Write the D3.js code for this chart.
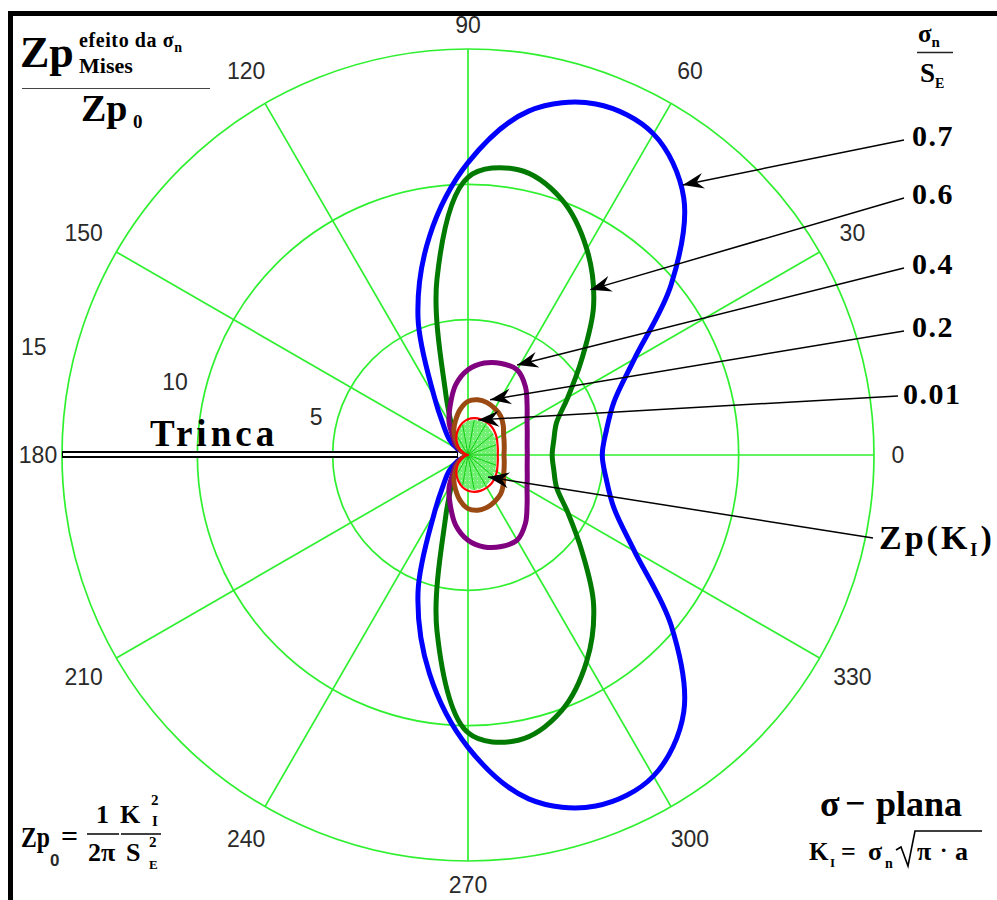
<!DOCTYPE html>
<html><head><meta charset="utf-8">
<script src="https://cdn.jsdelivr.net/npm/d3@7"></script>
<style>
html,body{margin:0;padding:0;background:#fff;}
svg{display:block;}
.serif{font-family:"Liberation Serif","Times New Roman",serif;font-weight:bold;fill:#000;}
.sans{font-family:"Liberation Sans",Arial,sans-serif;fill:#2a2a2a;}
</style></head><body>
<svg id="chart" width="997" height="900"></svg>
<script>
// ---------- data (polar angle in degrees, radius in Zp/Zp0 units) ----------
const angles   = [0,10,20,30,40,50,60,70,80,90,100,110,120,130,140,150,160,170,180];
const sigma07  = [4.96,5.19,5.74,7.10,9.80,12.40,13.70,13.80,12.90,10.80,8.20,5.40,2.50,1.40,0.90,0.45,0,0,0];
const sigma06  = [3.11,3.22,3.48,4.26,5.48,7.22,8.78,10.07,10.70,10.26,6.60,2.40,1.20,0.85,0.60,0.30,0,0,0];
const sigma04  = [2.19,2.22,2.33,2.52,2.85,3.30,3.63,3.60,3.45,3.15,2.63,1.93,1.40,0.85,0.60,0.30,0,0,0];
const sigma02  = [1.33,1.36,1.42,1.52,1.70,1.88,1.98,2.06,2.07,1.98,1.70,1.35,1.05,0.70,0.45,0.20,0,0,0];
const sigma001 = [1.10,1.12,1.16,1.23,1.30,1.36,1.39,1.40,1.38,1.32,1.20,1.03,0.85,0.65,0.45,0.25,0.10,0.03,0];
const zpKI     = [1.05,1.07,1.10,1.16,1.22,1.27,1.31,1.33,1.31,1.25,1.14,1.00,0.81,0.62,0.43,0.26,0.12,0.03,0];

const ringValues  = [5,10,15];
const ringLabels  = ["5","10","15"];
const angleTicks  = [0,30,60,90,120,150,180,210,240,270,300,330];
const angleLabels = ["0","30","60","90","120","150","180","210","240","270","300","330"];

// annotations: label text, arrow target (angle, value) on its curve
const seriesLabels = ["0.7","0.6","0.4","0.2","0.01"];
const arrowTargetAng = [51.5,53.5,61.4,68.2,74,-47.7];
const arrowTargetVal = [12.75,7.6,3.79,2.2,1.35,1.1];

// ---------- layout ----------
const svg = d3.select("#chart");
const cx = 468, cy = 455, R = 406;
const rScale = d3.scaleLinear().domain([0,15]).range([0,R]);
const gridColor = "#2ff02f";
const rad = d => d*Math.PI/180;
const px = (a,v) => cx + rScale(v)*Math.cos(rad(a));
const py = (a,v) => cy - rScale(v)*Math.sin(rad(a));

// frame (top and left black borders)
svg.append("rect").attr("x",8).attr("y",11).attr("width",989).attr("height",5).attr("fill","#000");
svg.append("rect").attr("x",8).attr("y",11).attr("width",5).attr("height",889).attr("fill","#000");

const defs = svg.append("defs");
const pat = defs.append("pattern").attr("id","dots").attr("width",4).attr("height",4).attr("patternUnits","userSpaceOnUse");
pat.append("rect").attr("width",4).attr("height",4).attr("fill","#70f070");
pat.append("rect").attr("x",1).attr("y",1).attr("width",1).attr("height",1).attr("fill","#c8ffc8");

const g = svg.append("g").attr("transform",`translate(${cx},${cy})`);

// grid rings
g.selectAll("circle.ring").data(ringValues).enter().append("circle")
  .attr("r",d=>rScale(d)).attr("fill","none").attr("stroke",gridColor).attr("stroke-width",1.7);
// spokes
g.selectAll("line.spoke").data(angleTicks.filter(a=>a!==180)).enter().append("line")
  .attr("x1",0).attr("y1",0)
  .attr("x2",a=>R*Math.cos(rad(a))).attr("y2",a=>-R*Math.sin(rad(a)))
  .attr("stroke",gridColor).attr("stroke-width",1.7);

// crack line (double black line along 180)
g.append("line").attr("x1",-R).attr("x2",-10).attr("y1",-0.5).attr("y2",-0.5).attr("stroke","#000").attr("stroke-width",7);
g.append("line").attr("x1",-R+1).attr("x2",-11).attr("y1",-0.5).attr("y2",-0.5).attr("stroke","#fff").attr("stroke-width",3);

// angle labels
svg.selectAll("text.ang").data(angleTicks).enter().append("text")
  .attr("class","sans").attr("font-size",23)
  .attr("text-anchor","middle").attr("dominant-baseline","central")
  .attr("x",(a)=>{const rr=R+24+16*Math.abs(Math.sin(rad(2*a))); return cx+rr*Math.cos(rad(a));})
  .attr("y",(a)=>{const rr=R+24+16*Math.abs(Math.sin(rad(2*a))); return cy-rr*Math.sin(rad(a));})
  .text((a,i)=>angleLabels[i]);

// radial labels
svg.selectAll("text.rl").data(ringValues).enter().append("text")
  .attr("class","sans").attr("font-size",23)
  .attr("text-anchor","middle").attr("dominant-baseline","central")
  .attr("x",v=>cx+(rScale(v)*1.075+11)*Math.cos(rad(166)))
  .attr("y",v=>cy-(rScale(v)*1.075+11)*Math.sin(rad(166)))
  .text((v,i)=>ringLabels[i]);

// build closed symmetric polar curve
function pts(vals){
  let p = angles.map((a,i)=>({a:a,v:vals[i]}));
  for(let i=angles.length-2;i>=1;i--) p.push({a:-angles[i],v:vals[i]});
  return p.filter((d,i,arr)=>!(d.v===0 && arr[(i-1+arr.length)%arr.length].v===0));
}
const radial = d3.lineRadial()
  .angle(d=>Math.PI/2 - rad(d.a))
  .radius(d=>rScale(d.v))
  .curve(d3.curveCatmullRomClosed.alpha(0.5));

const series = [
  {vals:sigma07,color:"#0000ff",w:5},
  {vals:sigma06,color:"#007a00",w:5},
  {vals:sigma04,color:"#800080",w:5},
  {vals:sigma02,color:"#9a4a12",w:5}
];
series.forEach(s=>{
  g.append("path").attr("d",radial(pts(s.vals))).attr("fill","none")
   .attr("stroke",s.color).attr("stroke-width",s.w).attr("stroke-linejoin","round");
});

// Zp(KI) filled region with radial hatch lines
g.append("path").attr("d",radial(pts(zpKI))).attr("fill","url(#dots)").attr("stroke","none");
const hatch = [];
angles.forEach((a,i)=>{ if(i%2===0 && a<180){ hatch.push({a:a,v:zpKI[i]}); if(a>0) hatch.push({a:-a,v:zpKI[i]}); } });
g.selectAll("line.h").data(hatch).enter().append("line")
  .attr("x1",0).attr("y1",0)
  .attr("x2",d=>rScale(d.v)*Math.cos(rad(d.a))).attr("y2",d=>-rScale(d.v)*Math.sin(rad(d.a)))
  .attr("stroke","#10cc10").attr("stroke-width",1);
// sigma 0.01 curve (red)
g.append("path").attr("d",radial(pts(sigma001))).attr("fill","none").attr("stroke","#ff0000").attr("stroke-width",2.2);

// ---------- annotations ----------
const labelPos = [[912,146],[912,204],[912,274],[912,337],[903,404]];
const lineStart = [[904,140],[904,198],[904,268],[904,331],[898,396],[873,538]];
seriesLabels.forEach((t,i)=>{
  svg.append("text").attr("class","serif").attr("font-size",30).attr("letter-spacing",1.5)
    .attr("x",labelPos[i][0]).attr("y",labelPos[i][1]).text(t);
});
// Zp(KI) label
const zl = svg.append("text").attr("class","serif").attr("font-size",34).attr("x",879).attr("y",549).attr("letter-spacing",3);
zl.append("tspan").text("Zp(K");
zl.append("tspan").attr("font-size",18).attr("dy",7).text("I");
zl.append("tspan").attr("dy",-7).text(")");

arrowTargetAng.forEach((a,i)=>{
  const tx = px(a,arrowTargetVal[i]), ty = py(a,arrowTargetVal[i]);
  const [sx,sy] = lineStart[i];
  const ang = Math.atan2(ty-sy, tx-sx)*180/Math.PI;
  svg.append("line").attr("x1",sx).attr("y1",sy).attr("x2",tx).attr("y2",ty).attr("stroke","#000").attr("stroke-width",1.5);
  svg.append("path").attr("d","M0,0 L-21,-8 L-14,0 L-21,8 Z").attr("fill","#000")
    .attr("transform",`translate(${tx},${ty}) rotate(${ang})`);
});

// Trinca
svg.append("text").attr("class","serif").attr("font-size",37).attr("letter-spacing",4)
  .attr("x",150).attr("y",446).text("Trinca");

// top-left fraction
svg.append("text").attr("class","serif").attr("font-size",44).attr("x",20).attr("y",67).text("Zp");
const sup = svg.append("text").attr("class","serif").attr("font-size",20).attr("x",79).attr("y",47).attr("letter-spacing",0.6);
sup.append("tspan").text("efeito da σ");
sup.append("tspan").attr("font-size",14).attr("dy",5).text("n");
svg.append("text").attr("class","serif").attr("font-size",22).attr("x",79).attr("y",73).text("Mises");
svg.append("line").attr("x1",22).attr("x2",210).attr("y1",88.5).attr("y2",88.5).attr("stroke","#444").attr("stroke-width",1.2);
svg.append("text").attr("class","serif").attr("font-size",38).attr("x",81).attr("y",121).text("Zp");
svg.append("text").attr("class","serif").attr("font-size",19).attr("x",133).attr("y",128).text("0");

// top-right fraction
const sn = svg.append("text").attr("class","serif").attr("font-size",25).attr("x",918).attr("y",42);
sn.append("tspan").text("σ");
sn.append("tspan").attr("font-size",15).attr("dy",5).text("n");
svg.append("line").attr("x1",917).attr("x2",953).attr("y1",52.5).attr("y2",52.5).attr("stroke","#222").attr("stroke-width",1.4);
const se = svg.append("text").attr("class","serif").attr("font-size",27).attr("x",920).attr("y",82);
se.append("tspan").text("S");
se.append("tspan").attr("font-size",14).attr("dy",6).text("E");

// bottom-left formula
svg.append("text").attr("class","serif").attr("font-size",30).attr("x",21).attr("y",847).attr("textLength",29).attr("lengthAdjust","spacingAndGlyphs").text("Zp");
svg.append("text").attr("class","sans").attr("font-size",17).attr("font-weight","bold").attr("fill","#000").attr("x",50).attr("y",866).text("0");
svg.append("text").attr("class","serif").attr("font-size",30).attr("font-weight","normal").attr("x",61).attr("y",846).text("=");
svg.append("text").attr("class","serif").attr("font-size",26).attr("x",96).attr("y",823).text("1");
svg.append("line").attr("x1",87).attr("x2",119).attr("y1",834).attr("y2",834).attr("stroke","#000").attr("stroke-width",1.5);
svg.append("text").attr("class","serif").attr("font-size",26).attr("x",88).attr("y",861).text("2π");
svg.append("text").attr("class","serif").attr("font-size",26).attr("x",120).attr("y",823).text("K");
svg.append("text").attr("class","serif").attr("font-size",15).attr("x",151).attr("y",805).text("2");
svg.append("text").attr("class","serif").attr("font-size",15).attr("x",152).attr("y",826).text("I");
svg.append("line").attr("x1",121).attr("x2",161).attr("y1",834).attr("y2",834).attr("stroke","#000").attr("stroke-width",1.5);
svg.append("text").attr("class","serif").attr("font-size",26).attr("x",126).attr("y",861).text("S");
svg.append("text").attr("class","serif").attr("font-size",15).attr("x",149).attr("y",847).text("2");
svg.append("text").attr("class","serif").attr("font-size",13).attr("x",149).attr("y",869).text("E");

// bottom-right
svg.append("text").attr("class","serif").attr("font-size",36).attr("x",820).attr("y",816).text("σ");
svg.append("text").attr("class","serif").attr("font-size",36).attr("font-weight","normal").attr("x",845).attr("y",815).text("−");
svg.append("text").attr("class","serif").attr("font-size",36).attr("x",876).attr("y",816).text("plana");
svg.append("text").attr("class","serif").attr("font-size",25).attr("x",809).attr("y",860).text("K");
svg.append("text").attr("class","serif").attr("font-size",13).attr("x",830).attr("y",867).text("I");
svg.append("text").attr("class","serif").attr("font-size",26).attr("font-weight","normal").attr("x",841).attr("y",860).text("=");
svg.append("text").attr("class","serif").attr("font-size",26).attr("x",868).attr("y",860).text("σ");
svg.append("text").attr("class","serif").attr("font-size",14).attr("x",885).attr("y",868).text("n");
svg.append("path").attr("d","M896,850 L901,847 L908,866 L915,831 L982,831").attr("fill","none").attr("stroke","#000").attr("stroke-width",1.6);
svg.append("text").attr("class","serif").attr("font-size",26).attr("x",917).attr("y",860).text("π");
svg.append("text").attr("class","serif").attr("font-size",22).attr("x",940).attr("y",857).text("·");
svg.append("text").attr("class","serif").attr("font-size",26).attr("x",955).attr("y",860).text("a");
</script>
</body></html>
